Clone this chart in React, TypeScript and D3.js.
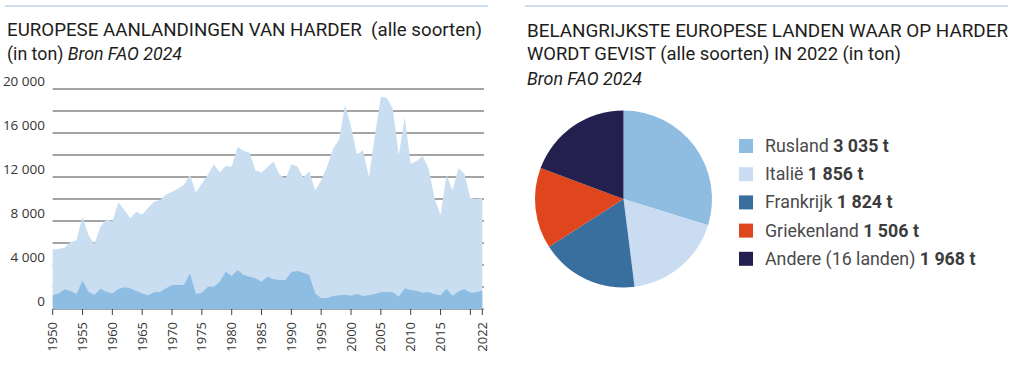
import * as d3 from "d3";

const YEARS = d3.range(1950, 2023);

// totale aanlandingen (lichtblauw)
const TOTAL = [
  5400, 5450, 5570, 6100, 6250, 8400, 6700, 5900, 7500, 8150,
  7950, 9700, 9000, 8250, 8850, 8600, 9200, 9750, 9900, 10400,
  10660, 10950, 11300, 12200, 10600, 11400, 12200, 13150, 12400, 13000,
  12950, 14750, 14360, 14200, 12600, 12400, 12900, 13400, 12250, 11800,
  13150, 12950, 11950, 12500, 10800, 11700, 12950, 14600, 15400, 18600,
  16600, 14000, 14450, 12000, 15800, 19300, 19200, 18200, 14000, 17400,
  13200, 13450, 13900, 12800, 10060, 8550, 12200, 10800, 12800, 12300,
  10100, 10000, 10100,
];

// donkerder deel onderaan
const PART = [
  1270, 1420, 1790, 1640, 1360, 2580, 1570, 1270, 1850, 1570,
  1420, 1820, 1970, 1880, 1640, 1420, 1240, 1520, 1550, 1880,
  2180, 2180, 2180, 3240, 1360, 1480, 2030, 2030, 2480, 3390,
  3000, 3550, 3090, 2940, 2790, 2480, 2950, 2700, 2640, 2640,
  3360, 3450, 3300, 3090, 1420, 1000, 1000, 1180, 1240, 1300,
  1210, 1360, 1180, 1240, 1360, 1520, 1550, 1520, 1120, 1880,
  1730, 1670, 1480, 1550, 1330, 1240, 1850, 1210, 1580, 1820,
  1480, 1520, 1670,
];

const GRID_TICKS = d3.range(0, 20001, 2000);
const LABEL_TICKS = [0, 4000, 8000, 12000, 16000, 20000];
const YEAR_TICKS = [1950, 1955, 1960, 1965, 1970, 1975, 1980, 1985, 1990, 1995, 2000, 2005, 2010, 2015, 2020, 2022];
const YEAR_LABELS = [1950, 1955, 1960, 1965, 1970, 1975, 1980, 1985, 1990, 1995, 2000, 2005, 2010, 2015, 2022];

const COUNTRIES = ["Rusland", "Italië", "Frankrijk", "Griekenland", "Andere (16 landen)"];
const TONS = [3035, 1856, 1824, 1506, 1968];
const PIE_COLORS = ["#8fbde2", "#cadcf1", "#386f9f", "#df461d", "#23204f"];

const fmt = (v: number) => d3.format(",")(v).replace(/,/g, " ");

const TITLE_FONT = "Roboto, sans-serif";
const TICK_FONT = "'Open Sans', sans-serif";

export default function App() {
  const x = d3.scaleLinear().domain([1950, 2022]).range([52.7, 482.3]);
  const y = d3.scaleLinear().domain([0, 20000]).range([309, 89]);

  const area = (vals: number[]) =>
    d3
      .area<number>()
      .x((_, i) => x(YEARS[i]))
      .y0(y(0))
      .y1((d) => y(d))(vals) ?? "";

  const pie = d3
    .pie<number>()
    .sort(null)
    .value((d) => d)(TONS);
  const arc = d3.arc<d3.PieArcDatum<number>>().innerRadius(0).outerRadius(88.5);
  const cx = 623.5;
  const cy = 199;

  return (
    <svg
      width={1021}
      height={369}
      style={{ position: "absolute", left: 0, top: 0, background: "#fff" }}
    >
      {/* top rules */}
      <line x1={5} x2={488} y1={6} y2={6} stroke="#9cc0de" strokeWidth={1} />
      <line x1={525} x2={1008} y1={6} y2={6} stroke="#9cc0de" strokeWidth={1} />

      {/* left title */}
      <g fontFamily={TITLE_FONT} fill="#1d1d1b" fontSize={17.5}>
        <text x={7} y={36} style={{ whiteSpace: "pre" }} textLength={475} lengthAdjust="spacingAndGlyphs">
          EUROPESE AANLANDINGEN VAN HARDER  (alle soorten)
        </text>
        <text x={7} y={60} textLength={175} lengthAdjust="spacingAndGlyphs">
          (in ton) <tspan fontStyle="italic">Bron FAO 2024</tspan>
        </text>
      </g>

      {/* grid */}
      <g>
        {GRID_TICKS.map((t) => (
          <line key={t} x1={52.7} x2={484} y1={y(t)} y2={y(t)} stroke="#4a4a4a" strokeWidth={1} />
        ))}
      </g>

      <path d={area(TOTAL)} fill="#cadef2" />
      <path d={area(PART)} fill="#8dbde2" />

      {/* y labels */}
      <g fontFamily={TICK_FONT} fontSize={13.5} fill="#333" textAnchor="end">
        {LABEL_TICKS.map((t) => (
          <text key={t} x={45} y={y(t) - 3}>
            {fmt(t)}
          </text>
        ))}
      </g>

      {/* x axis ticks */}
      <g>
        {YEAR_TICKS.map((t) => (
          <line key={t} x1={x(t)} x2={x(t)} y1={309} y2={315} stroke="#444" strokeWidth={1} />
        ))}
      </g>
      <g fontFamily={TICK_FONT} fontSize={13} fill="#333" textAnchor="end">
        {YEAR_LABELS.map((t) => (
          <text key={t} transform={`translate(${x(t) + 4.5},322) rotate(-90)`}>
            {t}
          </text>
        ))}
      </g>

      {/* right title */}
      <g fontFamily={TITLE_FONT} fill="#1d1d1b" fontSize={17.5}>
        <text x={527} y={37} textLength={481} lengthAdjust="spacingAndGlyphs">
          BELANGRIJKSTE EUROPESE LANDEN WAAR OP HARDER
        </text>
        <text x={527} y={60} textLength={374} lengthAdjust="spacingAndGlyphs">
          WORDT GEVIST (alle soorten) IN 2022 (in ton)
        </text>
        <text x={527} y={85} fontStyle="italic" textLength={115} lengthAdjust="spacingAndGlyphs">
          Bron FAO 2024
        </text>
      </g>

      {/* pie */}
      <g transform={`translate(${cx},${cy})`}>
        {pie.map((d, i) => (
          <path key={i} d={arc(d) ?? ""} fill={PIE_COLORS[i]} />
        ))}
      </g>

      {/* legend */}
      <g fontFamily={TITLE_FONT} fontSize={17.8}>
        {COUNTRIES.map((c, i) => (
          <g key={c} transform={`translate(739,${146 + i * 28.2})`}>
            <rect x={0} y={-7} width={14} height={14} fill={PIE_COLORS[i]} />
            <text x={26} y={6} fill="#4a4a4a">
              {c} <tspan fontWeight="bold" fill="#3c3c3c">{fmt(TONS[i])} t</tspan>
            </text>
          </g>
        ))}
      </g>
    </svg>
  );
}
